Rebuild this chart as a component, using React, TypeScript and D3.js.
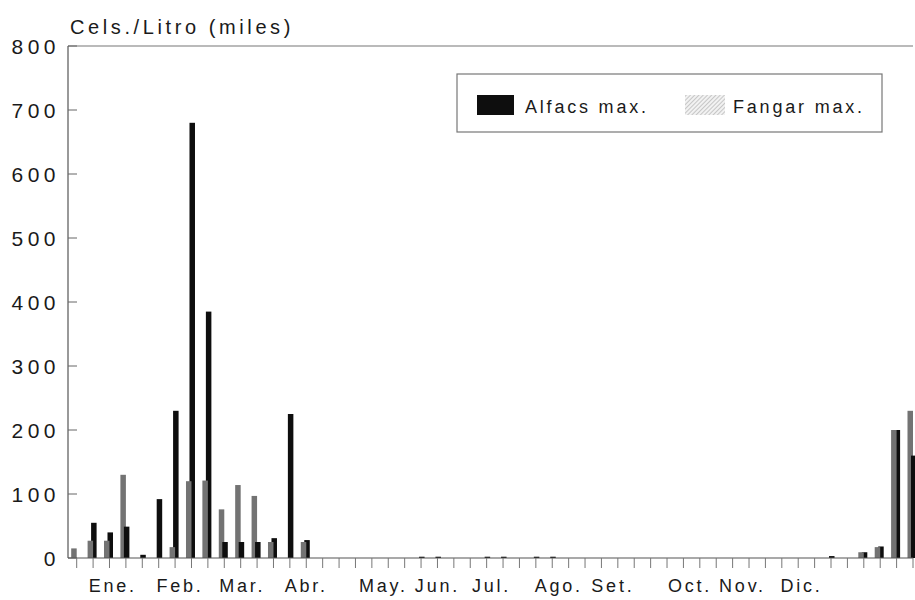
import React, { useEffect } from "react";
import * as d3 from "d3";

// weekly samples, week 0..51
const weeks = d3.range(52);

// Fangar max. (hatched / grey)
const fangar = [
  15, 27, 27, 130, 0, 0, 17, 120, 121, 76, 114, 97, 25, 0, 25, 0,
  0, 0, 0, 0, 0, 0, 0, 0, 0, 0, 0, 0, 0, 0, 0, 0,
  0, 0, 0, 0, 0, 0, 0, 0, 0, 0, 0, 0, 0, 0, 0, 0,
  9, 17, 200, 230,
];

// Alfacs max. (black)
const alfacs = [
  0, 55, 40, 49, 5, 92, 230, 680, 385, 25, 25, 25, 31, 225, 28, 0,
  0, 0, 0, 0, 0, 2, 2, 0, 0, 2, 2, 0, 2, 2, 0, 0,
  0, 0, 0, 0, 0, 0, 0, 0, 0, 0, 0, 0, 0, 0, 3, 0,
  9, 18, 200, 160,
];

// month labels sit at (fractional) week positions
const months = ["Ene.", "Feb.", "Mar.", "Abr.", "May.", "Jun.", "Jul.", "Ago.", "Set.", "Oct.", "Nov.", "Dic."];
const monthPos = [2.2, 6.3, 10.1, 14, 18.7, 22, 25.3, 29.4, 32.7, 37.4, 40.6, 44.2];

const yTicks = [0, 100, 200, 300, 400, 500, 600, 700, 800];

const font = "'Liberation Sans', Arial, sans-serif";
const ink = "#1a1a1a";
const grey = "#737373";
const black = "#0e0e0e";

export default function App() {
  useEffect(() => {
    document.body.style.margin = "0";
  }, []);

  const width = 915;
  const height = 600;
  const left = 68;
  const right = 913;

  const x = d3.scaleLinear().domain([0, 51]).range([76.7, 913]);
  const y = d3.scaleLinear().domain([0, 800]).range([558, 46]);

  // shorter bar drawn in front, ties: grey in front
  const bars = weeks.flatMap((w) => {
    const g = { key: `g${w}`, x: x(w) - 5.5, w: 5.5, v: fangar[w], fill: grey };
    const b = { key: `b${w}`, x: x(w) - 2, w: 5.5, v: alfacs[w], fill: black };
    return b.v >= g.v ? [b, g] : [g, b];
  });

  const txt = { fontFamily: font, fill: ink };

  return (
    <svg width={width} height={height} style={{ display: "block", background: "#fff" }}>
      <defs>
        <pattern id="hatch" width="3" height="3" patternUnits="userSpaceOnUse" patternTransform="rotate(45)">
          <rect width="3" height="3" fill="#f2f2f2" />
          <line x1="0" y1="0" x2="0" y2="3" stroke="#9a9a9a" strokeWidth="1" />
        </pattern>
      </defs>

      {/* title */}
      <text x={70} y={34} fontSize={20} letterSpacing={3.6} {...txt}>
        Cels./Litro (miles)
      </text>

      {/* frame */}
      <line x1={left} x2={right} y1={y(800)} y2={y(800)} stroke="#777" strokeWidth={1.2} />
      <line x1={left} x2={left} y1={y(800)} y2={y(0)} stroke="#555" strokeWidth={1.2} />

      {/* y axis */}
      {yTicks.map((t) => (
        <g key={t}>
          <line x1={left} x2={left + 9} y1={y(t)} y2={y(t)} stroke="#666" strokeWidth={1} />
          <text x={60} y={y(t) + 7.5} textAnchor="end" fontSize={21} letterSpacing={4.5} {...txt}>
            {t}
          </text>
        </g>
      ))}

      {/* bars */}
      {bars
        .filter((d) => d.v > 0)
        .map((d) => (
          <rect key={d.key} x={d.x} y={y(d.v)} width={d.w} height={y(0) - y(d.v)} fill={d.fill} />
        ))}

      {/* x axis */}
      <line x1={left} x2={right} y1={y(0)} y2={y(0)} stroke="#555" strokeWidth={1.2} />
      {weeks.map((w) => (
        <line key={w} x1={x(w)} x2={x(w)} y1={y(0)} y2={y(0) + 10} stroke="#777" strokeWidth={1} />
      ))}
      {months.map((m, i) => (
        <text key={m} x={x(monthPos[i])} y={592} textAnchor="middle" fontSize={18} letterSpacing={2.8} {...txt}>
          {m}
        </text>
      ))}

      {/* legend */}
      <rect x={457} y={74} width={425} height={58} fill="#fff" stroke="#777" strokeWidth={1.2} />
      <rect x={477} y={95} width={37} height={20} fill={black} />
      <text x={525} y={113} fontSize={18} letterSpacing={2.8} {...txt}>
        Alfacs max.
      </text>
      <rect x={685} y={95} width={40} height={20} fill="url(#hatch)" />
      <text x={733} y={113} fontSize={18} letterSpacing={2.8} {...txt}>
        Fangar max.
      </text>
    </svg>
  );
}
